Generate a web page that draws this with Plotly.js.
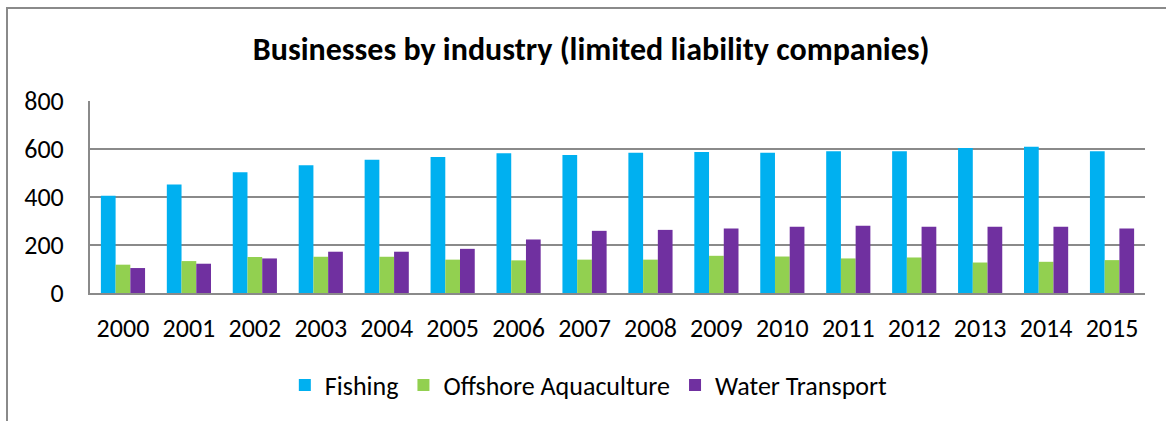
<!DOCTYPE html>
<html>
<head>
<meta charset="utf-8">
<script src="https://cdn.plot.ly/plotly-3.0.1.min.js"></script>
<style>
  html, body { margin: 0; padding: 0; background: #fff; overflow: hidden; }
  #chart { width: 1166px; height: 421px; }
  #frame { position: absolute; left: 6px; top: 7px; width: 2000px; height: 2000px;
           border-left: 2px solid #8a8a8a; border-top: 2px solid #8a8a8a; pointer-events: none; }
</style>
</head>
<body>
<div id="chart"></div>
<div id="frame"></div>
<script>
const years = ['2000','2001','2002','2003','2004','2005','2006','2007','2008','2009','2010','2011','2012','2013','2014','2015'];
const fishing = [405, 452, 503, 532, 555, 567, 582, 575, 584, 588, 584, 591, 591, 604, 609, 591];
const offshoreAquaculture = [118, 133, 150, 151, 151, 139, 136, 139, 139, 155, 152, 144, 148, 127, 130, 137];
const waterTransport = [104, 122, 144, 172, 172, 184, 223, 259, 263, 269, 276, 280, 276, 276, 276, 269];
const yTicks = [0, 200, 400, 600, 800];

const FONT = 'Carlito, "Open Sans", sans-serif';

const traces = [
  { type: 'bar', name: 'Fishing', x: years, y: fishing, marker: { color: '#00B0F0' } },
  { type: 'bar', name: 'Offshore Aquaculture', x: years, y: offshoreAquaculture, marker: { color: '#92D050' } },
  { type: 'bar', name: 'Water Transport', x: years, y: waterTransport, marker: { color: '#7030A0' } }
];

const layout = {
  width: 1166, height: 421,
  paper_bgcolor: '#fff', plot_bgcolor: '#fff',
  margin: { l: 90, r: 21, t: 101, b: 127.5, pad: 0 },
  font: { family: FONT, size: 26, color: '#000' },
  title: {
    text: '<b>Businesses by industry (limited liability companies)</b>',
    font: { family: FONT, size: 32, color: '#000' },
    x: 0.507, xanchor: 'center', xref: 'container',
    y: 1 - 49 / 421, yanchor: 'middle', yref: 'container'
  },
  barmode: 'group', bargap: 0.33, bargroupgap: 0,
  showlegend: true,
  legend: {
    orientation: 'h', x: 0.505, xanchor: 'center', xref: 'container',
    y: 1 - 385 / 421, yanchor: 'middle', yref: 'container',
    font: { family: FONT, size: 26, color: '#000' },
    itemwidth: 30,
    traceorder: 'normal'
  },
  xaxis: {
    type: 'category', tickvals: years, ticktext: years,
    showline: true, linecolor: '#8a8a8a', linewidth: 2,
    showgrid: false, ticks: '', ticklabelstandoff: 11,
    tickfont: { family: FONT, size: 26, color: '#000' }
  },
  yaxis: {
    range: [0, 800], tickvals: yTicks, ticktext: yTicks.map(String),
    showline: true, linecolor: '#8a8a8a', linewidth: 2,
    showgrid: true, gridcolor: '#8a8a8a', gridwidth: 2,
    zeroline: false, ticks: '', ticklabelstandoff: 19,
    tickfont: { family: FONT, size: 26, color: '#000' }
  }
};

Plotly.newPlot('chart', traces, layout, { staticPlot: true, displayModeBar: false });
</script>
</body>
</html>
